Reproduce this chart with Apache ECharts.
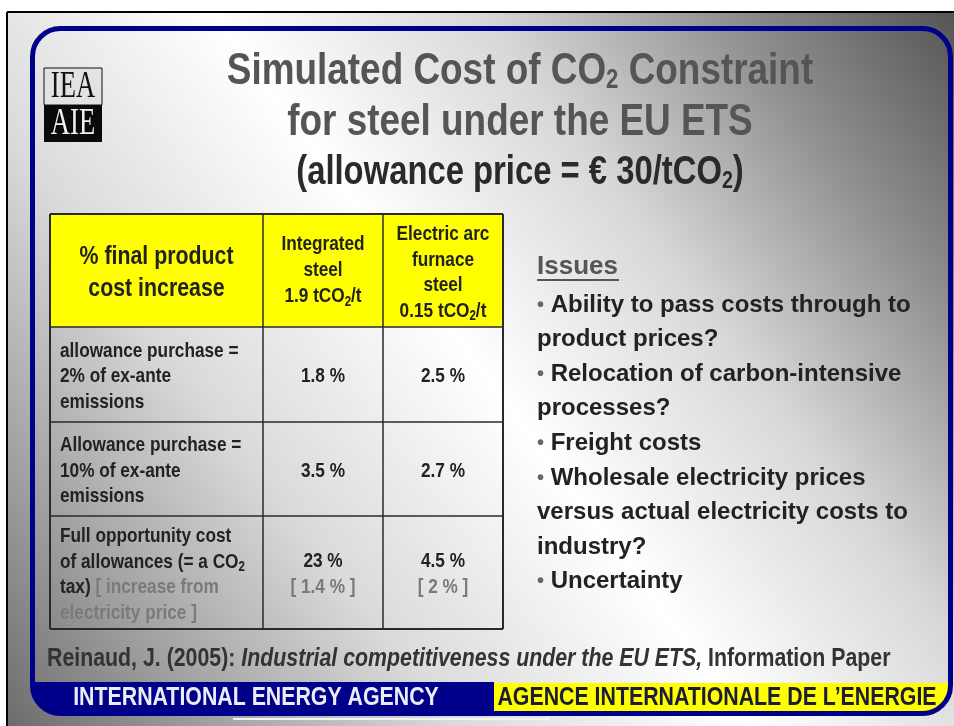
<!DOCTYPE html>
<html>
<head>
<meta charset="utf-8">
<script src="https://cdn.jsdelivr.net/npm/echarts@6/dist/echarts.min.js"></script>
<style>
  html, body { margin: 0; padding: 0; background: #fff; }
  #slide { width: 954px; height: 726px; }
</style>
</head>
<body>
<div id="slide"></div>
<script>
// slide text and table values
const titleLines = ['Simulated Cost of CO{sub|2} Constraint', 'for steel under the EU ETS'];
const subTitle = '(allowance price = € 30/tCO{sub|2})';
const columnHeaders = [
    '% final product\ncost increase',
    'Integrated\nsteel\n1.9 tCO{sub|2}/t',
    'Electric arc\nfurnace\nsteel\n0.15 tCO{sub|2}/t'
];
const scenarios = [
    'allowance purchase =\n2% of ex-ante\nemissions',
    'Allowance purchase =\n10% of ex-ante\nemissions',
    'Full opportunity cost\nof allowances (= a CO{sub|2}\ntax) {note|[ increase from}\n{note|electricity price ]}'
];
const integratedSteel = [1.8, 3.5, 23];
const arcFurnaceSteel = [2.5, 2.7, 4.5];
const integratedElectricity = [null, null, 1.4];
const arcFurnaceElectricity = [null, null, 2];
const issuesHeading = 'Issues';
const issues = [
    'Ability to pass costs through to\nproduct prices?',
    'Relocation of carbon-intensive\nprocesses?',
    'Freight costs',
    'Wholesale electricity prices\nversus actual electricity costs to\nindustry?',
    'Uncertainty'
];
const citation = ['Reinaud, J. (2005): ', 'Industrial competitiveness under the EU ETS,', ' Information Paper'];
const footer = ['INTERNATIONAL ENERGY AGENCY', 'AGENCE INTERNATIONALE DE L\u2019ENERGIE'];

const NAVY = '#00008b';
const SANS = "'Liberation Sans', Arial, sans-serif";
const NARROW = 0.82; // no narrow face installed, squeeze the regular one

// table grid
const colX = [50, 263, 383, 503];
const rowY = [214, 327, 422, 516, 629];

let chart = echarts.init(document.getElementById('slide'), null, { renderer: 'canvas' });

function txt(x, y, text, style, squeeze) {
    let s = Object.assign({
        text: text,
        fontFamily: SANS,
        fontWeight: 'bold',
        fill: '#222',
        align: 'center',
        verticalAlign: 'middle'
    }, style);
    s.textAlign = s.align;
    s.textVerticalAlign = s.verticalAlign;
    return { type: 'text', x: x, y: y, z: 10, scaleX: squeeze === undefined ? NARROW : squeeze, style: s };
}

function subRich(size, lh) {
    return { sub: { fontSize: size, fontFamily: SANS, fontWeight: 'bold', verticalAlign: 'bottom', lineHeight: lh } };
}

function pct(v) {
    return v + ' %';
}

let elements = [];

// slide background
elements.push({
    type: 'rect', z: 0,
    shape: { x: 7, y: 12, width: 947, height: 714 },
    style: {
        fill: {
            type: 'linear', x: 0, y: 1, x2: 1, y2: 0,
            colorStops: [
                { offset: 0, color: '#6c6c6c' },
                { offset: 0.12, color: '#9a9a9a' },
                { offset: 0.3, color: '#dadada' },
                { offset: 0.5, color: '#ffffff' },
                { offset: 0.68, color: '#d8d8d8' },
                { offset: 0.85, color: '#8e8e8e' },
                { offset: 1, color: '#555555' }
            ]
        }
    }
});
elements.push({ type: 'line', z: 1, shape: { x1: 7, y1: 12, x2: 954, y2: 12 }, style: { stroke: '#000', lineWidth: 2 } });
elements.push({ type: 'line', z: 1, shape: { x1: 7, y1: 12, x2: 7, y2: 726 }, style: { stroke: '#000', lineWidth: 2 } });
elements.push({ type: 'line', z: 1, shape: { x1: 233, y1: 719, x2: 550, y2: 719 }, style: { stroke: '#f4f4f4', lineWidth: 2 } });

// footer bands and frame
elements.push({ type: 'rect', z: 2, shape: { x: 32, y: 682, width: 462, height: 32, r: [0, 0, 0, 26] }, style: { fill: NAVY } });
elements.push({ type: 'rect', z: 2, shape: { x: 494, y: 683, width: 455, height: 30, r: [0, 0, 24, 0] }, style: { fill: '#ffff00' } });
elements.push({ type: 'rect', z: 3, shape: { x: 32.5, y: 28.5, width: 918, height: 685, r: 28 }, style: { fill: null, stroke: NAVY, lineWidth: 5 } });
elements.push(txt(256, 698, footer[0], { fontSize: 26, fill: '#ececf4' }));
elements.push(txt(717, 698, footer[1], { fontSize: 26, fill: '#1c1c3a' }));

// logo
elements.push({ type: 'rect', z: 4, shape: { x: 44, y: 68, width: 58, height: 37 }, style: { fill: '#e2e2e2', stroke: '#111', lineWidth: 1 } });
elements.push({ type: 'rect', z: 4, shape: { x: 44, y: 105, width: 58, height: 37 }, style: { fill: '#0a0a0a' } });
elements.push(txt(73, 87, 'IEA', { fontSize: 38, fontFamily: "'Liberation Serif', serif", fontWeight: 'normal', fill: '#111' }, 0.7));
elements.push(txt(73, 124, 'AIE', { fontSize: 38, fontFamily: "'Liberation Serif', serif", fontWeight: 'normal', fill: '#f0f0f0' }, 0.7));

// title
const titleShadow = { textShadowColor: '#c4c4c4', textShadowOffsetX: 2, textShadowOffsetY: 2, textShadowBlur: 0 };
titleLines.forEach(function (line, i) {
    elements.push(txt(520, 72 + i * 51, line, Object.assign({ fontSize: 45, fill: '#555', rich: subRich(27, 32) }, titleShadow)));
});
elements.push(txt(520, 173, subTitle, Object.assign({ fontSize: 40, fill: '#2a2a2a', rich: subRich(24, 30) }, titleShadow)));

// table: header background, grid lines, cells
elements.push({ type: 'rect', z: 5, shape: { x: colX[0], y: rowY[0], width: colX[3] - colX[0], height: rowY[1] - rowY[0] }, style: { fill: '#ffff00' } });
colX.forEach(function (x, i) {
    let outer = i === 0 || i === colX.length - 1;
    elements.push({ type: 'line', z: 6, shape: { x1: x, y1: rowY[0], x2: x, y2: rowY[rowY.length - 1] }, style: { stroke: '#2a2a2a', lineWidth: outer ? 2 : 1.5 } });
});
rowY.forEach(function (y, i) {
    let outer = i === 0 || i === rowY.length - 1;
    elements.push({ type: 'line', z: 6, shape: { x1: colX[0], y1: y, x2: colX[3], y2: y }, style: { stroke: '#2a2a2a', lineWidth: outer ? 2 : 1.5 } });
});

const colMid = [0, 1, 2].map(function (i) { return (colX[i] + colX[i + 1]) / 2; });
const rowMid = [0, 1, 2, 3].map(function (i) { return (rowY[i] + rowY[i + 1]) / 2; });

elements.push(txt(colMid[0], rowMid[0] + 2, columnHeaders[0], { fontSize: 26, lineHeight: 32, rich: subRich(16, 20) }));
elements.push(txt(colMid[1], rowMid[0], columnHeaders[1], { fontSize: 21, lineHeight: 26, rich: subRich(14, 18) }));
elements.push(txt(colMid[2], rowMid[0] + 2, columnHeaders[2], { fontSize: 21, lineHeight: 25.5, rich: subRich(14, 18) }));

const noteStyle = { fill: '#7a7a7a', fontSize: 21, fontFamily: SANS, fontWeight: 'bold' };
scenarios.forEach(function (label, r) {
    elements.push(txt(60, rowMid[r + 1] + 2, label, {
        fontSize: 21, lineHeight: 25.5, align: 'left',
        rich: Object.assign(subRich(14, 18), { note: noteStyle })
    }));
    [[integratedSteel, integratedElectricity], [arcFurnaceSteel, arcFurnaceElectricity]].forEach(function (pair, c) {
        let t = pct(pair[0][r]);
        if (pair[1][r] !== null) {
            t += '\n{note|[ ' + pct(pair[1][r]) + ' ]}';
        }
        elements.push(txt(colMid[c + 1], rowMid[r + 1] + 2, t, { fontSize: 21, lineHeight: 26, rich: { note: noteStyle } }));
    });
});

// issues list
elements.push(txt(537, 267, issuesHeading, { fontSize: 26, fill: '#555', align: 'left' }, 1));
elements.push({ type: 'line', z: 10, shape: { x1: 537, y1: 280, x2: 619, y2: 280 }, style: { stroke: '#555', lineWidth: 2 } });
let issueLines = [];
issues.forEach(function (item) {
    item.split('\n').forEach(function (line, j) {
        issueLines.push(j === 0 ? '{dot|\u2022} ' + line : line);
    });
});
elements.push(txt(537, 305 - 17.3, issueLines.join('\n'), {
    fontSize: 24, lineHeight: 34.6, align: 'left', verticalAlign: 'top',
    rich: { dot: { fontSize: 20, fontFamily: SANS, fill: '#666', fontWeight: 'bold' } }
}, 1));

// citation
elements.push(txt(47, 659, '{b|' + citation[0] + '}{i|' + citation[1] + '}{b|' + citation[2] + '}', {
    fontSize: 26, align: 'left', fill: '#333',
    rich: {
        b: { fontSize: 26, fontFamily: SANS, fontWeight: 'bold', fill: '#333' },
        i: { fontSize: 26, fontFamily: SANS, fontWeight: 'bold', fontStyle: 'italic', fill: '#333' }
    }
}));

chart.setOption({
    backgroundColor: '#ffffff',
    animation: false,
    graphic: { elements: elements }
});
</script>
</body>
</html>
